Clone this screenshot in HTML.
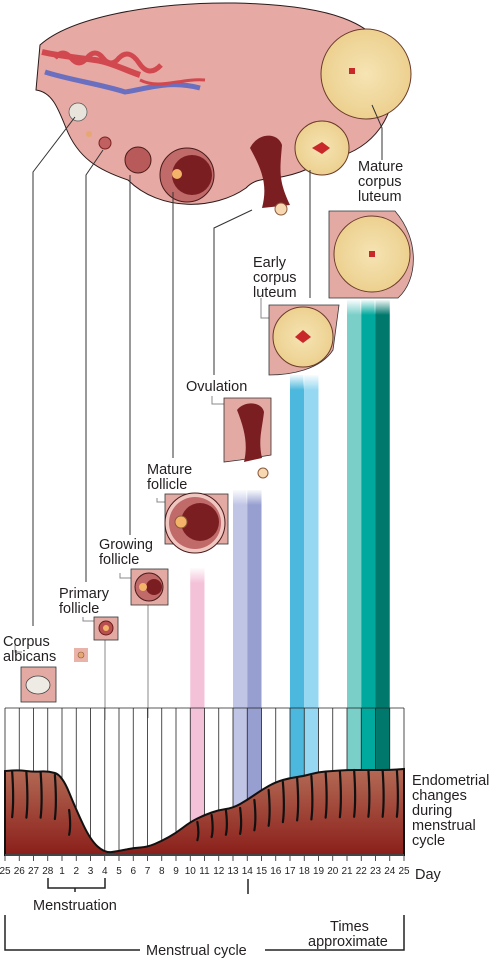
<!DOCTYPE html>
<html><head><meta charset="utf-8"><style>
html,body{margin:0;padding:0;background:#fff;}
svg{display:block;font-family:"Liberation Sans",sans-serif;}
.lbl{font-size:14.5px;fill:#231f20;}
</style></head><body>
<svg width="496" height="959" viewBox="0 0 496 959">
<defs>
<linearGradient id="endo" x1="0" y1="0" x2="0" y2="1"><stop offset="0" stop-color="#b46a55"/><stop offset="1" stop-color="#8a1f1a"/></linearGradient>
<linearGradient id="fadeP" x1="0" y1="0" x2="0" y2="1"><stop offset="0" stop-color="#fff" stop-opacity="1"/><stop offset="1" stop-color="#fff" stop-opacity="0"/></linearGradient>
<radialGradient id="cl" cx="0.5" cy="0.5" r="0.5"><stop offset="0" stop-color="#f6e4b4"/><stop offset="1" stop-color="#ecd08f"/></radialGradient>
</defs>

<g>
<path d="M40,45 C70,18 150,2 235,3 C320,5 385,18 393,72 C398,118 372,148 335,158 L300,172 C272,182 258,175 246,188 C215,210 160,212 128,180 C98,170 78,158 66,128 C58,108 52,92 36,90 Z" fill="#e6a9a4" stroke="#2a1a1a" stroke-width="1"/>
<path d="M42,52 C60,56 80,58 95,60 C110,62 125,70 140,75" stroke="#d2484f" stroke-width="6" fill="none"/>
<path d="M45,72 C70,80 100,84 125,92 C150,88 170,80 200,88" stroke="#6a6fc0" stroke-width="5" fill="none"/>
<path d="M55,58 q8,-10 16,0 q8,10 16,0 q8,-10 16,0 q8,10 16,0 q10,-10 20,5 q10,15 22,2" stroke="#d2484f" stroke-width="5" fill="none"/>
<path d="M140,80 C160,90 180,78 205,80" stroke="#d2484f" stroke-width="3" fill="none"/>
<circle cx="366" cy="74" r="45" fill="url(#cl)" stroke="#6a3a2a" stroke-width="1"/>
<circle cx="322" cy="148" r="27" fill="url(#cl)" stroke="#6a3a2a" stroke-width="1"/>
<path d="M312,148 l10,-6 l8,6 l-8,6z" fill="#c8282a"/>
<rect x="349" y="68" width="6" height="6" fill="#c8282a"/>
<circle cx="78" cy="112" r="9" fill="#e8e4dc" stroke="#555" stroke-width="0.7"/>
<circle cx="89" cy="134" r="3" fill="#e6a870"/>
<circle cx="105" cy="143" r="6" fill="#c06060" stroke="#7a2020" stroke-width="1"/>
<circle cx="138" cy="160" r="13" fill="#b85a5a" stroke="#4a1a1a" stroke-width="1"/>
<circle cx="187" cy="175" r="27" fill="#c06a6a" stroke="#4a1a1a" stroke-width="1"/>
<circle cx="192" cy="175" r="20" fill="#7a1e22"/>
<circle cx="177" cy="174" r="5" fill="#f3b46a"/>
<path d="M250,148 C258,132 278,132 282,145 C280,170 278,180 290,205 L262,208 C268,185 262,170 250,148Z" fill="#7a1e22"/>
<circle cx="281" cy="209" r="6" fill="#f7d8b0" stroke="#8a5a3a" stroke-width="1"/>
</g>

<g stroke="#333" stroke-width="1" fill="none">
<polyline points="75,117 33,172 33,626"/>
<polyline points="103,150 86,175 86,582"/>
<polyline points="130,175 130,535"/>
<polyline points="173,192 173,458"/>
<polyline points="252,210 214,228 214,375"/>
<polyline points="310,170 310,298"/>
<polyline points="372,105 382,128 382,160"/>
<polyline points="15,645 15,652 22,652" stroke="#888"/>
<polyline points="83,617 83,621 94,621" stroke="#888"/>
<polyline points="120,573 120,578 131,578" stroke="#888"/>
<polyline points="157,498 157,502 165,502" stroke="#888"/>
<polyline points="212,396 212,404 224,404" stroke="#888"/>
<polyline points="261,298 261,318 269,318" stroke="#888"/>
<line x1="105" y1="640" x2="105" y2="720" stroke="#888"/>
<line x1="148" y1="605" x2="148" y2="718" stroke="#888"/>
</g>

<g class="lbl">
<text x="3" y="646"><tspan x="3">Corpus</tspan><tspan x="3" dy="15">albicans</tspan></text>
<text x="59" y="598"><tspan x="59">Primary</tspan><tspan x="59" dy="15">follicle</tspan></text>
<text x="99" y="549"><tspan x="99">Growing</tspan><tspan x="99" dy="15">follicle</tspan></text>
<text x="147" y="474"><tspan x="147">Mature</tspan><tspan x="147" dy="15">follicle</tspan></text>
<text x="186" y="391">Ovulation</text>
<text x="253" y="267"><tspan x="253">Early</tspan><tspan x="253" dy="15">corpus</tspan><tspan x="253" dy="15">luteum</tspan></text>
<text x="358" y="171"><tspan x="358">Mature</tspan><tspan x="358" dy="15">corpus</tspan><tspan x="358" dy="15">luteum</tspan></text>
</g>

<g>
<rect x="21" y="667" width="35" height="35" fill="#e3aaa4" stroke="#333" stroke-width="0.8"/>
<ellipse cx="38" cy="685" rx="12" ry="9" fill="#eeebe4" stroke="#444" stroke-width="0.8"/>
<rect x="74" y="648" width="14" height="14" fill="#e9b3aa"/>
<circle cx="81" cy="655" r="3" fill="#e6a870" stroke="#8a5a3a" stroke-width="0.6"/>
<rect x="94" y="617" width="24" height="23" fill="#e3aaa4" stroke="#333" stroke-width="0.8"/>
<circle cx="106" cy="628" r="7" fill="#b85050" stroke="#6a1a1a"/><circle cx="106" cy="628" r="3" fill="#f3b46a"/>
<rect x="131" y="569" width="37" height="36" fill="#e3aaa4" stroke="#333" stroke-width="0.8"/>
<circle cx="149" cy="587" r="14" fill="#c06a6a" stroke="#4a1a1a"/><circle cx="154" cy="587" r="8" fill="#7a1e22"/><circle cx="143" cy="587" r="4" fill="#f3b46a"/>
<rect x="165" y="494" width="63" height="50" fill="#e3aaa4" stroke="#333" stroke-width="0.8"/>
<circle cx="195" cy="523" r="30" fill="#f0c6c0" stroke="#4a1a1a"/><circle cx="195" cy="523" r="26" fill="#c06a6a"/><circle cx="200" cy="522" r="19" fill="#7a1e22"/><circle cx="181" cy="522" r="6" fill="#f3b46a" stroke="#8a5a3a"/>
<path d="M224,398 H271 V455 L240,460 L224,462 Z" fill="#e3aaa4" stroke="#333" stroke-width="0.8"/>
<path d="M237,410 C245,400 262,402 264,412 C262,430 258,440 262,458 L244,462 C248,445 245,430 237,410Z" fill="#7a1e22"/>
<circle cx="263" cy="473" r="5" fill="#f7d8b0" stroke="#8a5a3a"/>
<path d="M269,305 H339 L333,350 C320,370 290,375 269,375 Z" fill="#e3aaa4" stroke="#333" stroke-width="0.8"/>
<circle cx="303" cy="337" r="30" fill="url(#cl)" stroke="#6a3a2a"/>
<path d="M295,337 l8,-7 l8,7 l-8,6z" fill="#c8282a"/>
<path d="M329,211 H395 C420,240 418,280 398,298 H329 Z" fill="#e3aaa4" stroke="#333" stroke-width="0.8"/>
<circle cx="372" cy="254" r="38" fill="url(#cl)" stroke="#6a3a2a"/>
<rect x="369" y="251" width="6" height="6" fill="#c8282a"/>
</g>

<g id="hormone-bars"></g>
<g id="grid"></g>
<g id="endo-g"></g>
<g id="days"></g>

<text x="412" y="785" class="lbl"><tspan x="412">Endometrial</tspan><tspan x="412" dy="15">changes</tspan><tspan x="412" dy="15">during</tspan><tspan x="412" dy="15">menstrual</tspan><tspan x="412" dy="15">cycle</tspan></text>
<text x="415" y="879" class="lbl" font-size="15">Day</text>

<g stroke="#222" stroke-width="1.5" fill="none">
<polyline points="48,878 48,888 105,888 105,878"/>
<line x1="75" y1="888" x2="75" y2="892"/>
<line x1="248" y1="879" x2="248" y2="894"/>
<polyline points="5,915 5,950 140,950"/>
<polyline points="265,950 404,950 404,915"/>
</g>
<text x="33" y="910" class="lbl">Menstruation</text>
<text x="146" y="955" class="lbl">Menstrual cycle</text>
<text x="330" y="931" class="lbl"><tspan x="330">Times</tspan><tspan x="308" dy="15">approximate</tspan></text>
</svg>

<script>
var dayLabels = ["25","26","27","28","1","2","3","4","5","6","7","8","9","10","11","12","13","14","15","16","17","18","19","20","21","22","23","24","25"];
// endometrium thickness (px above base) at each day line
var thickness = [84,85,83,84,80,45,15,2,4,7,8,14,22,33,40,45,47,55,65,73,77,79,83,84,85,85,85,85,86];
// hormone bars: start day index, end day index, top y, colour
var barStart = [13,16,17,20,21,24,25,26];
var barEnd   = [14,17,18,21,22,25,26,27];
var barTop   = [568,490,490,375,375,300,300,300];
var barColor = ["#f4c2d8","#c0c5e6","#969fd0","#4db8dd","#96d8f1","#7acfc9","#00a99d","#00786c"];

var NS="http://www.w3.org/2000/svg";
var X0=5,X1=404,Y0=708,YB=855;
function xd(i){return X0+(X1-X0)*i/(dayLabels.length-1);}
function yt(t){return YB-t;}
function mk(tag,attrs,parent){var e=document.createElementNS(NS,tag);for(var k in attrs)e.setAttribute(k,attrs[k]);parent.appendChild(e);return e;}

var hb=document.getElementById('hormone-bars');
for(var b=0;b<barStart.length;b++){
  var r=mk('rect',{x:xd(barStart[b]),y:barTop[b],width:xd(barEnd[b])-xd(barStart[b]),height:YB-barTop[b],fill:barColor[b]},hb);
  
  
  var f=mk('rect',{x:xd(barStart[b])-1,y:barTop[b]-1,width:xd(barEnd[b])-xd(barStart[b])+2,height:16,fill:'url(#fadeP)'},hb);
  
  
}

var g=document.getElementById('grid');
for(var i=0;i<dayLabels.length;i++){
  var l=mk('line',{x1:xd(i),y1:Y0,x2:xd(i),y2:YB+6,stroke:'#222','stroke-width':0.8},g);
  
  
}
var tl=mk('line',{x1:X0,y1:Y0,x2:X1,y2:Y0,stroke:'#222','stroke-width':0.8},g);



var eg=document.getElementById('endo-g');
var d='M'+xd(0)+','+YB+' L'+xd(0)+','+yt(thickness[0]);
for(var i=1;i<thickness.length;i++){
  var xm=(xd(i-1)+xd(i))/2, ym=(yt(thickness[i-1])+yt(thickness[i]))/2;
  d+=' Q'+xd(i-1)+','+yt(thickness[i-1])+' '+xm+','+ym;
}
d+=' L'+xd(thickness.length-1)+','+yt(thickness[thickness.length-1])+' L'+xd(thickness.length-1)+','+YB+' Z';
var ep=mk('path',{d:d,fill:'url(#endo)',stroke:'#111','stroke-width':2},eg);


for(var i=0;i<thickness.length-1;i++){
  var tmin=Math.min(thickness[i],thickness[i+1]);
  if(tmin>30){
    var gx=(xd(i)+xd(i+1))/2, gt=yt(tmin);
    var gl=mk('path',{d:'M'+gx+','+gt+' q2,'+(tmin*0.35)+' 0,'+(tmin*0.55),stroke:'#111','stroke-width':2.2,fill:'none','stroke-linecap':'round'},eg);
    
    
  }
}
var bl=mk('line',{x1:X0,y1:YB,x2:X1,y2:YB,stroke:'#555','stroke-width':1.5},eg);



var dg=document.getElementById('days');
for(var i=0;i<dayLabels.length;i++){
  var t=mk('text',{x:xd(i),y:874,'text-anchor':'middle','font-size':'10',fill:'#231f20'},dg);
  t.textContent=dayLabels[i];
  
  
}
</script>
</body></html>
